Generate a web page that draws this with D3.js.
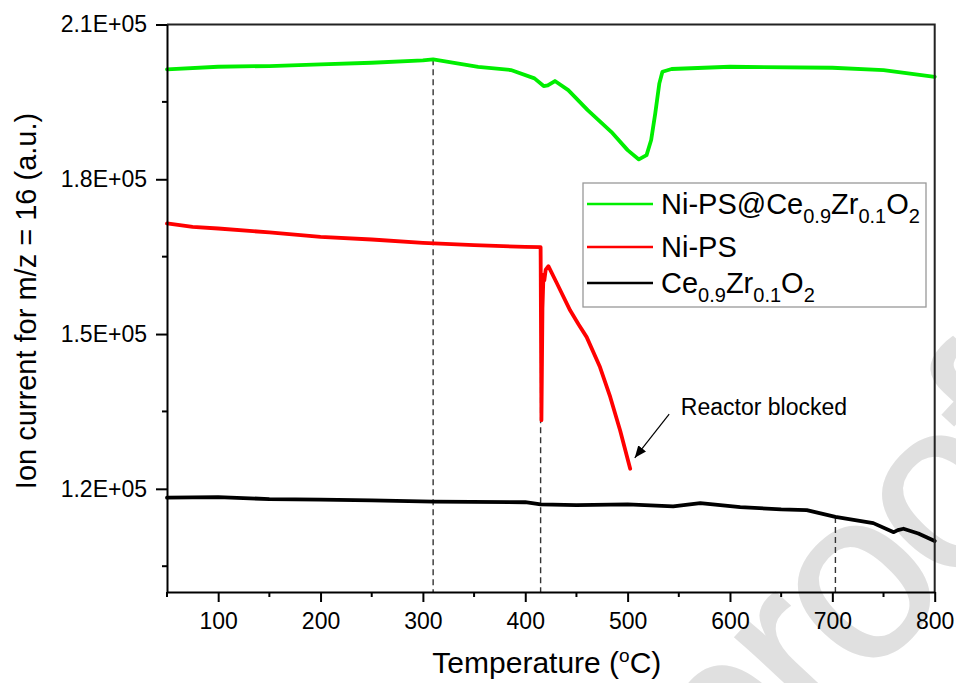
<!DOCTYPE html>
<html>
<head>
<meta charset="utf-8">
<script src="https://cdn.jsdelivr.net/npm/d3@7"></script>
<style>
  html, body { margin: 0; padding: 0; background: #fff; }
  svg { display: block; font-family: "Liberation Sans", Arial, Helvetica, sans-serif; }
</style>
</head>
<body>
<svg id="chart" width="956" height="683"></svg>
<script>
// Ion current (m/z = 16) versus temperature for the three samples
const greenT = [50, 100, 150, 200, 250, 300, 310, 354, 386, 409, 418, 422, 429, 442, 461, 484, 500, 511, 518.5, 523, 527, 531, 534, 543, 600, 700, 750, 800];
const greenV = [201310, 201810, 201950, 202280, 202590, 203050, 203250, 201800, 201170, 199560, 198070, 198200, 199040, 197290, 193410, 189200, 185650, 183850, 184680, 187600, 192770, 198590, 200840, 201370, 201810, 201620, 201170, 199870];

const redT = [50, 75, 100, 150, 200, 250, 300, 350, 400, 415, 415.8, 416.8, 417.8, 418.6, 420, 422.6, 431, 443.8, 452, 460, 473, 483, 492.7, 502.5];
const redV = [171430, 170770, 170460, 169690, 168830, 168330, 167670, 167220, 166900, 166840, 133300, 155000, 161500, 160400, 162500, 163150, 159800, 154600, 151900, 149400, 143600, 137800, 131300, 123900];

const blackT = [50, 100, 150, 200, 250, 310, 400, 415, 450, 500, 544.5, 571, 610, 650, 675, 703, 740, 760, 764, 769.5, 784, 800];
const blackV = [118280, 118400, 118000, 117900, 117750, 117500, 117400, 117000, 116840, 117000, 116600, 117240, 116460, 116000, 115880, 114550, 113350, 111600, 112000, 112260, 111340, 109900];

const seriesNames = ["Ni-PS@Ce0.9Zr0.1O2", "Ni-PS", "Ce0.9Zr0.1O2"];
const seriesColors = ["#00ee00", "#ff0000", "#000000"];

const xTicks = [100, 200, 300, 400, 500, 600, 700, 800];
const xMinorTicks = [50, 150, 250, 350, 450, 550, 650, 750];
const yTicks = [120000, 150000, 180000, 210000];
const yMinorTicks = [105000, 135000, 165000, 195000];
const yTickLabels = ["1.2E+05", "1.5E+05", "1.8E+05", "2.1E+05"];

// Temperatures marked with vertical dashed guides
const guideT = [310, 415, 703];
const guideV = [203250, 166840, 114550];

// "Reactor blocked" note: arrow tail / tip and label anchor in data units
const noteText = "Reactor blocked";
const noteTail = [540.6, 134500];
const noteTip = [507, 126000];
const noteLabel = [552, 134300];

const svg = d3.select("#chart");
const m = { left: 167, top: 24.5, right: 934.7, bottom: 592 };

const x = d3.scaleLinear().domain([50, 800]).range([m.left, m.right]);
const y = d3.scaleLinear().domain([100000, 210000]).range([m.bottom, m.top]);

// Background watermark
svg.append("text")
  .attr("transform", "translate(1072,462) rotate(-47)")
  .attr("text-anchor", "end")
  .attr("font-size", 240)
  .attr("letter-spacing", -10)
  .attr("fill", "#e0e0e0")
  .attr("stroke", "#e0e0e0")
  .attr("stroke-width", 2)
  .text("Journal Pre-proof");

// Dashed guides
const guides = guideT.map((t, i) => ({ t, v: guideV[i] }));
svg.append("g").selectAll("line").data(guides).join("line")
  .attr("x1", d => x(d.t)).attr("x2", d => x(d.t))
  .attr("y1", d => y(d.v)).attr("y2", m.bottom)
  .attr("stroke", "#333").attr("stroke-width", 1.4)
  .attr("stroke-dasharray", "6,4");

// Data lines
const line = d3.line().x(d => x(d[0])).y(d => y(d[1]));
const series = [
  d3.zip(greenT, greenV),
  d3.zip(redT, redV),
  d3.zip(blackT, blackV)
];
svg.append("g").selectAll("path").data(series).join("path")
  .attr("d", line)
  .attr("fill", "none")
  .attr("stroke", (d, i) => seriesColors[i])
  .attr("stroke-width", 3.8)
  .attr("stroke-linejoin", "round")
  .attr("stroke-linecap", "round");

// Frame: top and right edges
svg.append("path")
  .attr("d", `M${m.left},${m.top}H${m.right}V${m.bottom}`)
  .attr("fill", "none").attr("stroke", "#222").attr("stroke-width", 2);

// Axes
const fmtY = d3.scaleOrdinal().domain(yTicks).range(yTickLabels);
const xAxis = svg.append("g").attr("transform", `translate(0,${m.bottom})`)
  .call(d3.axisBottom(x).tickValues(xTicks).tickFormat(d3.format("d"))
    .tickSize(10).tickSizeOuter(0).tickPadding(11));
xAxis.append("g").selectAll("line").data(xMinorTicks).join("line")
  .attr("x1", d => x(d)).attr("x2", d => x(d))
  .attr("y1", 0).attr("y2", 5).attr("stroke", "#000");

const yAxis = svg.append("g").attr("transform", `translate(${m.left},0)`)
  .call(d3.axisLeft(y).tickValues(yTicks).tickFormat(d => fmtY(d))
    .tickSize(11).tickSizeOuter(0).tickPadding(9));
yAxis.append("g").selectAll("line").data(yMinorTicks).join("line")
  .attr("x1", 0).attr("x2", -5)
  .attr("y1", d => y(d)).attr("y2", d => y(d)).attr("stroke", "#000");

[xAxis, yAxis].forEach(a => {
  a.selectAll(".domain").attr("stroke", "#000").attr("stroke-width", 2);
  a.selectAll("line").attr("stroke", "#000").attr("stroke-width", 2);
  a.selectAll("text").attr("font-size", 23).attr("fill", "#000")
    .attr("font-family", '"Liberation Sans", Arial, sans-serif');
});

// Axis titles
svg.append("text")
  .attr("x", (m.left + m.right) / 2 - 4).attr("y", 673)
  .attr("text-anchor", "middle").attr("font-size", 30)
  .call(t => {
    t.append("tspan").text("Temperature (");
    t.append("tspan").attr("font-size", 19).attr("dy", -11).text("o");
    t.append("tspan").attr("dy", 11).text("C)");
  });

svg.append("text")
  .attr("transform", "translate(36,301) rotate(-90)")
  .attr("text-anchor", "middle").attr("font-size", 29)
  .text("Ion current for m/z = 16 (a.u.)");

// Annotation
const defs = svg.append("defs");
defs.append("marker").attr("id", "ah")
  .attr("viewBox", "0 0 12 10").attr("refX", 12).attr("refY", 5)
  .attr("markerWidth", 12).attr("markerHeight", 10)
  .attr("markerUnits", "userSpaceOnUse").attr("orient", "auto")
  .append("path").attr("d", "M0,0L12,5L0,10Z").attr("fill", "#000");
svg.append("line")
  .attr("x1", x(noteTail[0])).attr("y1", y(noteTail[1]))
  .attr("x2", x(noteTip[0])).attr("y2", y(noteTip[1]))
  .attr("stroke", "#000").attr("stroke-width", 1.2)
  .attr("marker-end", "url(#ah)");
svg.append("text")
  .attr("x", x(noteLabel[0])).attr("y", y(noteLabel[1]))
  .attr("font-size", 23).text(noteText);

// Legend
const lg = svg.append("g").attr("transform", "translate(583,183)");
lg.append("rect").attr("width", 343).attr("height", 124)
  .attr("fill", "#fff").attr("stroke", "#999").attr("stroke-width", 1.3);
const rowY = [21, 64, 100];
// label pieces: [text, isSubscript]
const legendParts = [
  [["Ni-PS@Ce", 0], ["0.9", 1], ["Zr", 0], ["0.1", 1], ["O", 0], ["2", 1]],
  [["Ni-PS", 0]],
  [["Ce", 0], ["0.9", 1], ["Zr", 0], ["0.1", 1], ["O", 0], ["2", 1]]
];
seriesNames.forEach((name, i) => {
  lg.append("line").attr("x1", 4).attr("x2", 70)
    .attr("y1", rowY[i]).attr("y2", rowY[i])
    .attr("stroke", seriesColors[i]).attr("stroke-width", 2.5);
  const t = lg.append("text").attr("x", 78).attr("y", rowY[i] + 10)
    .attr("font-size", 29);
  let sub = false;
  legendParts[i].forEach(([s, isSub]) => {
    const ts = t.append("tspan").text(s);
    if (isSub && !sub) { ts.attr("font-size", 20).attr("dy", 9); sub = true; }
    else if (isSub) { ts.attr("font-size", 20); }
    else if (sub) { ts.attr("dy", -9); sub = false; }
  });
});
</script>
</body>
</html>
